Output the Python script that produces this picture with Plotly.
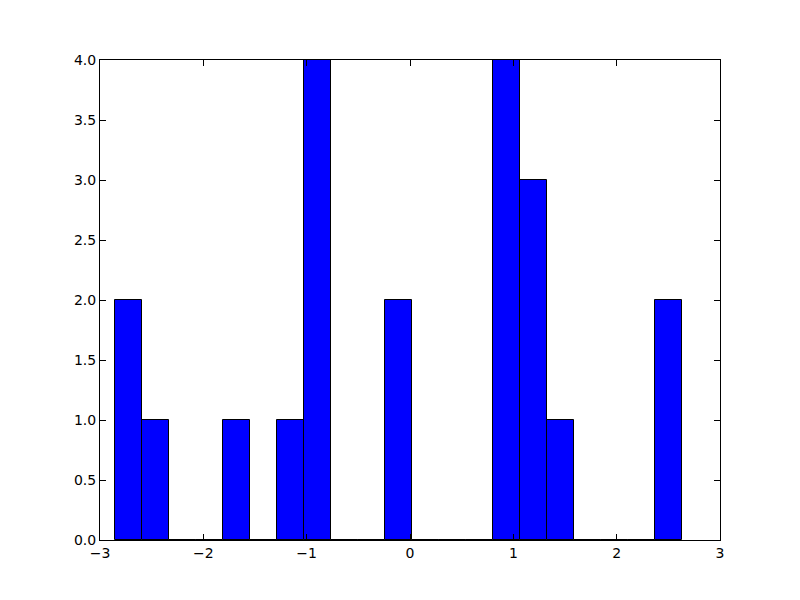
import numpy as np
import plotly.graph_objects as go

# Histogram data
bin_start = -2.855
bin_width = 0.2614
counts = [2, 1, 0, 0, 1, 0, 1, 4, 0, 0, 2, 0, 0, 0, 4, 3, 1, 0, 0, 0, 2]

x_ticks = [-3, -2, -1, 0, 1, 2, 3]
x_tick_labels = ["\u22123", "\u22122", "\u22121", "0", "1", "2", "3"]
y_ticks = [0.0, 0.5, 1.0, 1.5, 2.0, 2.5, 3.0, 3.5, 4.0]
y_tick_labels = ["%.1f" % v for v in y_ticks]

edges = bin_start + bin_width * np.arange(len(counts) + 1)
centers = (edges[:-1] + edges[1:]) / 2

fig = go.Figure()
fig.add_trace(go.Bar(
    x=centers, y=counts, width=[bin_width] * len(counts),
    marker=dict(color="#0000ff", line=dict(color="black", width=1)),
    hoverinfo="x+y",
))

axis_common = dict(
    showgrid=False, zeroline=False, showline=True, linecolor="black", linewidth=1,
    mirror="ticks", ticks="inside", ticklen=6, tickwidth=1, tickcolor="black",
    tickfont=dict(family="DejaVu Sans", size=14, color="black"),
)
fig.update_layout(
    width=800, height=600,
    margin=dict(l=92, r=88, t=52, b=68),
    paper_bgcolor="white", plot_bgcolor="white",
    bargap=0, showlegend=False,
    xaxis=dict(range=[-3, 3], tickvals=x_ticks, ticktext=x_tick_labels, **axis_common),
    yaxis=dict(range=[0, 4], tickvals=y_ticks, ticktext=y_tick_labels, **axis_common),
)
fig.write_html("out.html")
